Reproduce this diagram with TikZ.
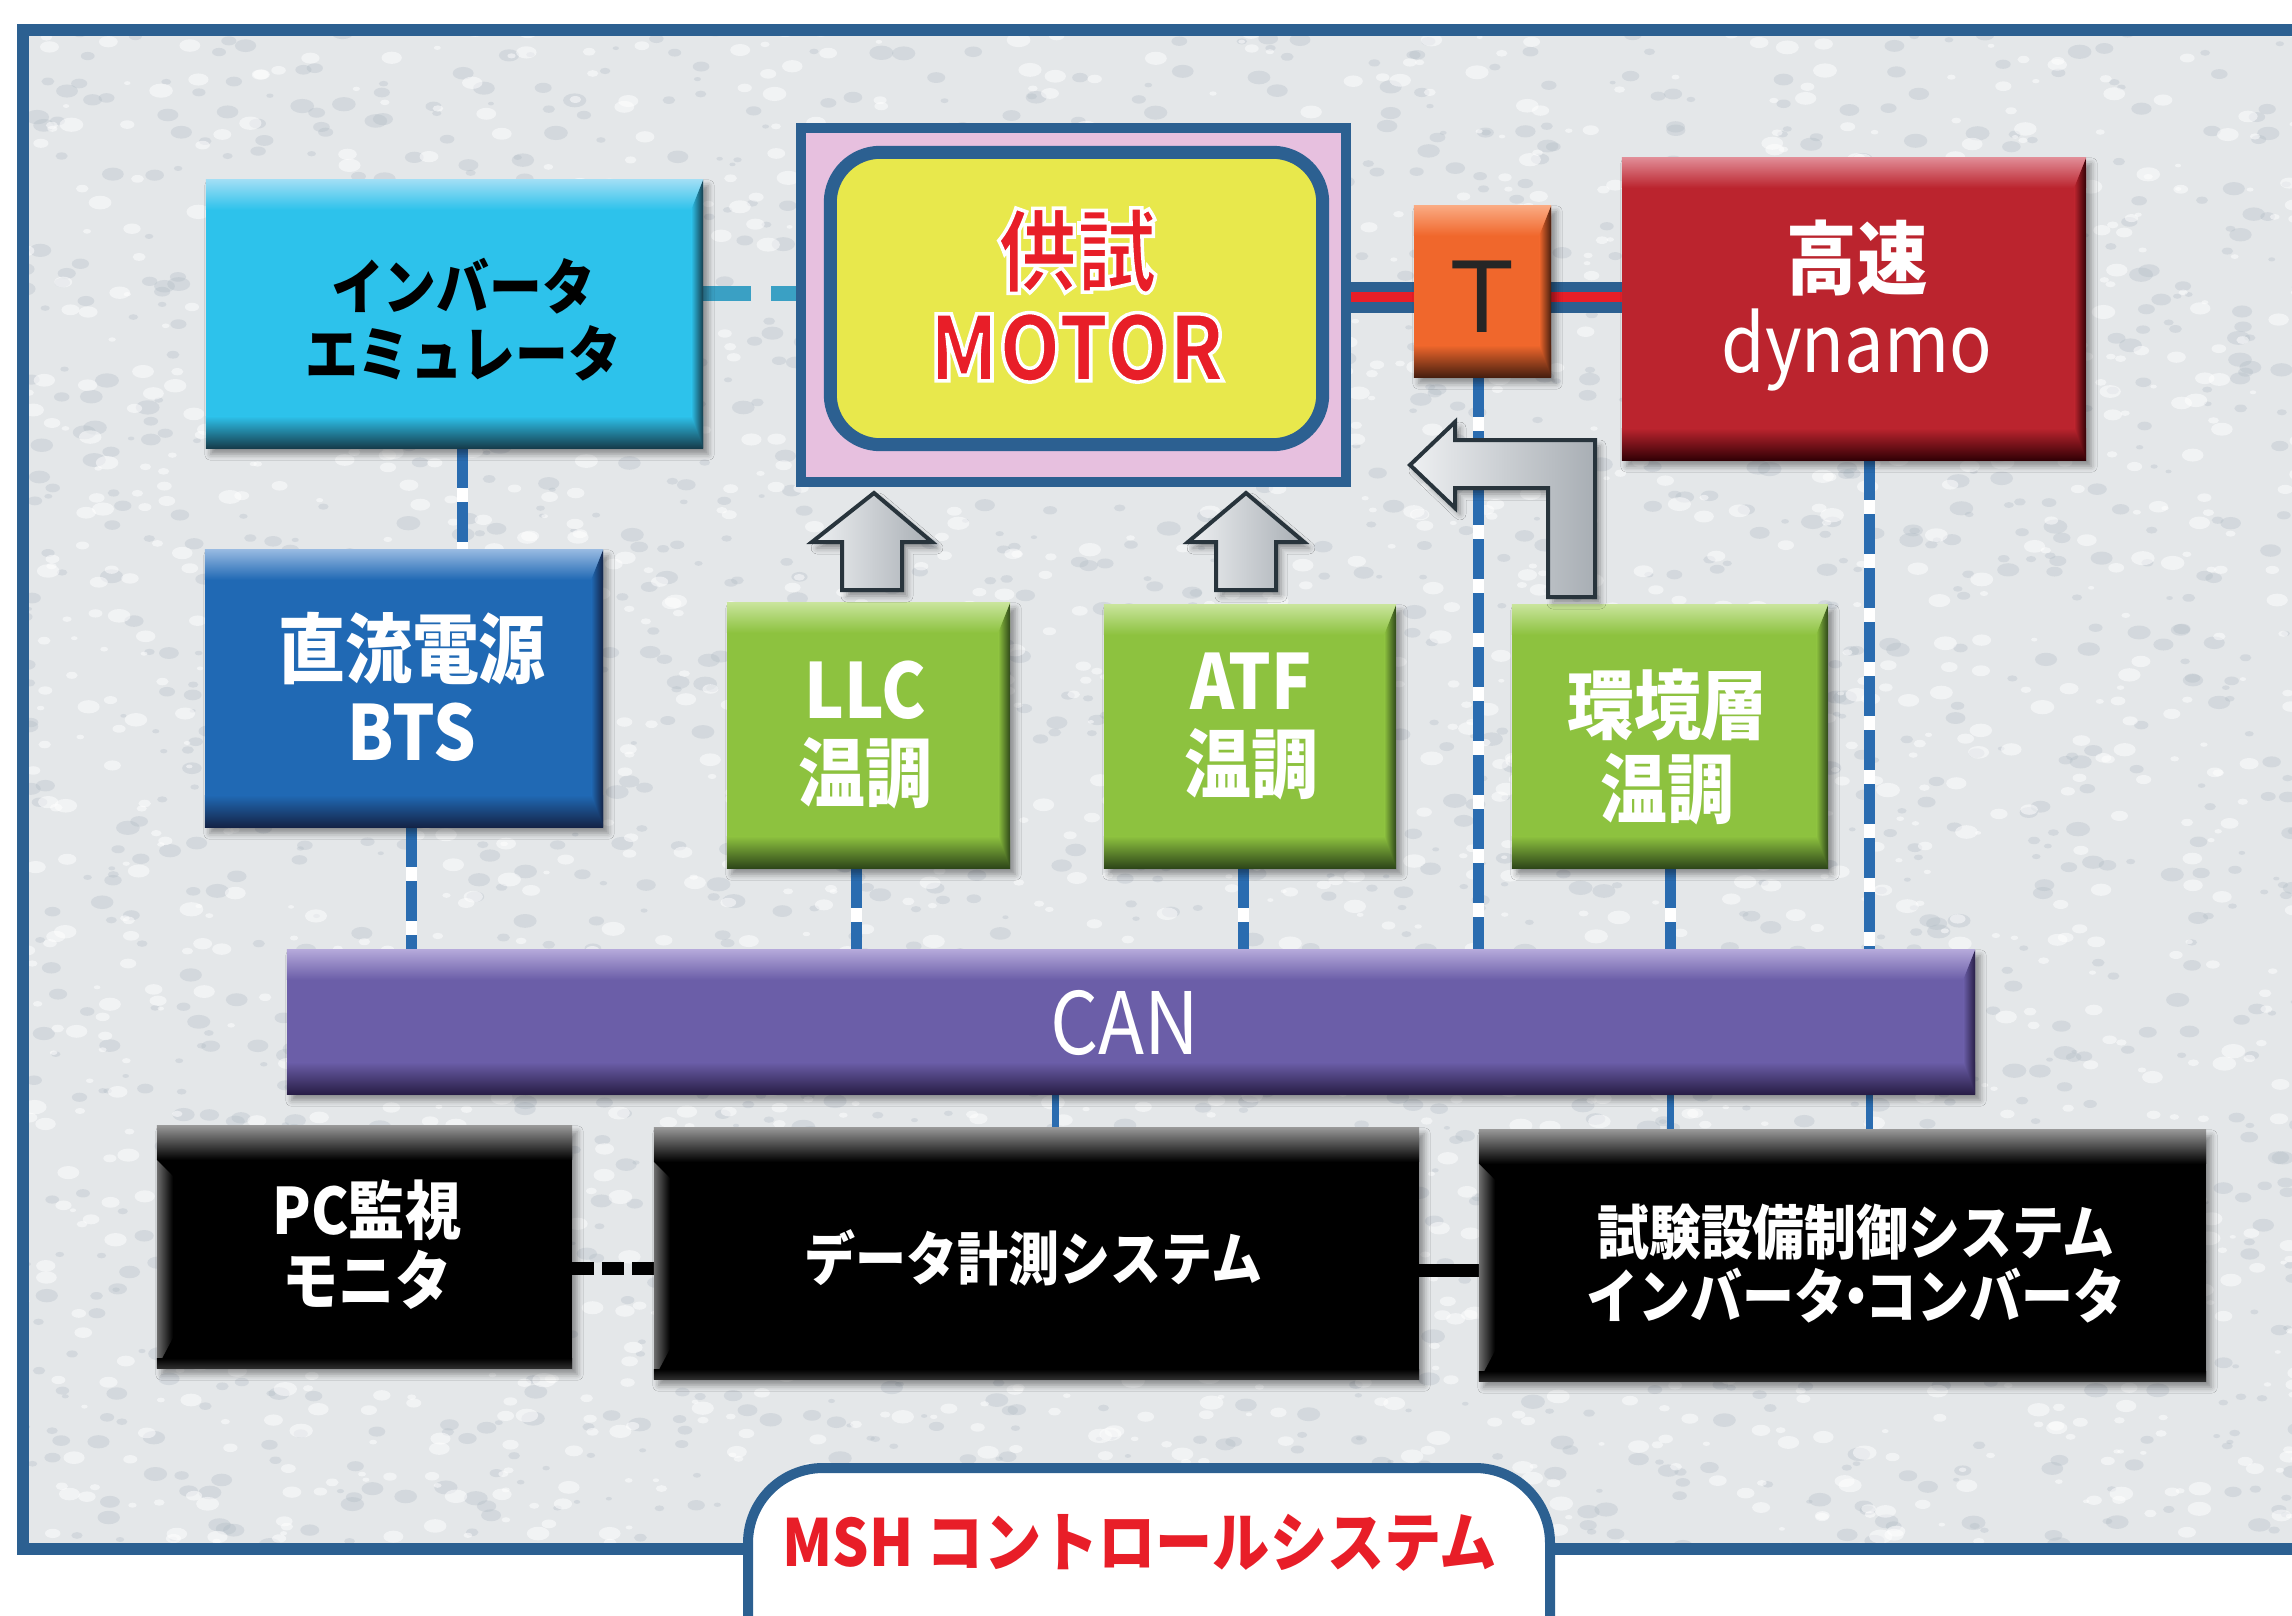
\documentclass[tikz,border=0pt]{standalone}
\usepackage{fontspec}
\newfontfamily\jp[FakeStretch=0.88]{Noto Sans CJK JP}
\newfontfamily\tfont{Liberation Sans}
\usetikzlibrary{calc,shadows.blur}
\newcommand\outlon{\special{pdf:literal direct 2 Tr 1 1 1 RG 3.5 w}}
\newcommand\outloff{\special{pdf:literal direct 0 Tr}}
\definecolor{frameblue}{RGB}{44,96,145}
\definecolor{bgc}{RGB}{228,231,233}
\definecolor{bgd}{RGB}{172,184,194}
\definecolor{cyanb}{RGB}{45,194,235}
\definecolor{cyanl}{RGB}{160,222,245}
\definecolor{cyand}{RGB}{22,60,75}
\definecolor{blueb}{RGB}{32,105,180}
\definecolor{bluel}{RGB}{150,185,225}
\definecolor{blued}{RGB}{20,35,70}
\definecolor{greenb}{RGB}{141,194,63}
\definecolor{greenl}{RGB}{200,228,155}
\definecolor{greend}{RGB}{45,70,25}
\definecolor{redb}{RGB}{187,36,46}
\definecolor{redl}{RGB}{225,140,150}
\definecolor{redd}{RGB}{50,0,5}
\definecolor{orab}{RGB}{240,103,44}
\definecolor{oral}{RGB}{250,170,130}
\definecolor{orad}{RGB}{70,30,15}
\definecolor{purb}{RGB}{107,94,168}
\definecolor{purl}{RGB}{180,168,218}
\definecolor{purd}{RGB}{40,30,70}
\definecolor{blkb}{RGB}{0,0,0}
\definecolor{blkl}{RGB}{150,150,150}
\definecolor{blkd}{RGB}{45,45,45}
\definecolor{blkside}{RGB}{110,110,110}
\definecolor{yel}{RGB}{232,232,76}
\definecolor{mpink}{RGB}{231,192,223}
\definecolor{motred}{RGB}{232,30,40}
\definecolor{lineblue}{RGB}{42,108,176}
\definecolor{lteal}{RGB}{58,160,196}
\definecolor{arrl}{RGB}{238,240,242}
\definecolor{arrd}{RGB}{168,174,180}
\definecolor{arrline}{RGB}{40,52,60}
\tikzset{
  bevel/.style n args={3}{fill=#1, path picture={
    \coordinate (pNW) at (path picture bounding box.north west);
    \coordinate (pNE) at (path picture bounding box.north east);
    \coordinate (pSW) at (path picture bounding box.south west);
    \coordinate (pSE) at (path picture bounding box.south east);
    \shade[top color=#2, bottom color=#1] (pNW) rectangle ([yshift=-30pt]pNE);
    \shade[top color=#1, bottom color=#3] ([yshift=32pt]pSW) rectangle (pSE);
    \shade[left color=#1, right color=#3] ([xshift=-12pt,yshift=-30pt]pNE) -- (pNE) -- (pSE) -- ([xshift=-12pt,yshift=32pt]pSE) -- cycle;
  }},
  blkbevel/.style={fill=blkb, path picture={
    \coordinate (pNW) at (path picture bounding box.north west);
    \coordinate (pNE) at (path picture bounding box.north east);
    \coordinate (pSW) at (path picture bounding box.south west);
    \coordinate (pSE) at (path picture bounding box.south east);
    \shade[top color=blkl, bottom color=blkb] (pNW) rectangle ([yshift=-34pt]pNE);
    \shade[left color=blkside, right color=blkb] ([yshift=-34pt]pNW) -- ([xshift=16pt,yshift=-50pt]pNW) -- ([xshift=16pt,yshift=30pt]pSW) -- (pSW) -- cycle;
    \shade[top color=blkb, bottom color=blkd] ([yshift=10pt]pSW) rectangle (pSE);
  }},
  softshadow/.style={blur shadow={shadow xshift=5pt, shadow yshift=-6pt, shadow blur radius=6pt, shadow opacity=40}},
  boxfill/.style={softshadow},
  place/.style={inner sep=0pt},
  txt/.style={align=center, inner sep=0pt},
  vdash/.style={draw=lineblue, line width=11, dash pattern=on 40pt off 14pt, preaction={draw=white, line width=11, solid}},
  vsolid/.style={draw=lineblue, line width=7},
  tealdash/.style={draw=lteal, line width=15, dash pattern=on 48pt off 20pt},
  blkdash/.style={draw=black, line width=13, dash pattern=on 22pt off 8pt},
  blkline/.style={draw=black, line width=13},
  garrow/.style={left color=arrl, right color=arrd, draw=arrline, line width=4, line join=miter, softshadow},
}
\begin{document}
\begin{tikzpicture}[x=1pt, y=-1pt]
\useasboundingbox (0,0) rectangle (2292,1616);
% background and frame
\fill[white] (0,0) rectangle (2292,1616);
\fill[bgc] (23,30) rectangle (2330,1549);
\begin{scope}
  \clip (23,30) rectangle (2330,1549);
  \pgfmathsetseed{42}
  \foreach \i in {1,...,2100}{
    \pgfmathsetmacro\qx{23+2290*rnd}
    \pgfmathsetmacro\qy{30+1519*rnd}
    \pgfmathsetmacro\qr{3+9*rnd}
    \fill[bgd, opacity=0.3] (\qx,\qy) ellipse ({\qr} and {0.6*\qr});
  }
  \foreach \i in {1,...,2100}{
    \pgfmathsetmacro\qx{23+2290*rnd}
    \pgfmathsetmacro\qy{30+1519*rnd}
    \pgfmathsetmacro\qr{3+9*rnd}
    \fill[white, opacity=0.5] (\qx,\qy) ellipse ({\qr} and {0.6*\qr});
  }
\end{scope}
\draw[frameblue, line width=12] (23,30) rectangle (2340,1549);

% node placements (named)
\node[place, minimum width=497, minimum height=268] (inv) at (454.5,314) {};
\node[place, minimum width=398, minimum height=277] (dc) at (404,688.5) {};
\node[place, minimum width=545, minimum height=354] (motorout) at (1073.5,305) {};
\node[place, minimum width=492, minimum height=292] (motorin) at (1076.5,298.5) {};
\node[place, minimum width=137, minimum height=171] (T) at (1482.5,291.5) {};
\node[place, minimum width=464, minimum height=302] (dyn) at (1854,309) {};
\node[place, minimum width=283, minimum height=265] (llc) at (868.5,735.5) {};
\node[place, minimum width=292, minimum height=263] (atf) at (1250,736.5) {};
\node[place, minimum width=316, minimum height=263] (env) at (1670,736.5) {};
\node[place, minimum width=1688, minimum height=144] (can) at (1131,1022) {};
\node[place, minimum width=415, minimum height=242] (pc) at (364.5,1247) {};
\node[place, minimum width=765, minimum height=251] (data) at (1036.5,1253.5) {};
\node[place, minimum width=727, minimum height=251] (test) at (1842.5,1255.5) {};

% connectors (behind the boxes)
\coordinate (sh) at ([yshift=8pt]motorout.east);
\draw[frameblue, line width=31] (sh) -- (sh -| T.west);
\draw[frameblue, line width=31] (T.east |- sh) -- (dyn.west |- sh);
\draw[motred, line width=10] (sh) -- (sh -| T.west);
\draw[motred, line width=10] (T.east |- sh) -- (dyn.west |- sh);
\draw[tealdash] ([yshift=21pt]inv.east) -- ([yshift=21pt]inv.east -| motorout.west);
\draw[vdash] ([xshift=7.5pt]inv.south) -- ([xshift=7.5pt]inv.south |- dc.north);
\draw[vdash] ([xshift=7pt]dc.south) -- ([xshift=7pt]dc.south |- can.north);
\draw[vdash] ([xshift=-12.5pt]llc.south) -- ([xshift=-12.5pt]llc.south |- can.north);
\draw[vdash] ([xshift=-7pt]atf.south) -- ([xshift=-7pt]atf.south |- can.north);
\draw[vdash] ([xshift=-4.5pt]T.south) -- ([xshift=-4.5pt]T.south |- can.north);
\draw[vdash] (env.south) -- (env.south |- can.north);
\draw[vdash] ([xshift=15pt]dyn.south) -- ([xshift=15pt]dyn.south |- can.north);
\draw[vsolid] ([xshift=18.5pt]data.north |- can.south) -- ([xshift=18.5pt]data.north);
\draw[vsolid] (env.south |- can.south) -- (env.south |- test.north);
\draw[vsolid] ([xshift=15pt]dyn.south |- can.south) -- ([xshift=15pt]dyn.south |- test.north);
\draw[blkdash] ([yshift=-21pt]pc.east) -- ([yshift=-21pt]pc.east -| data.west);
\draw[blkline] ([yshift=-17pt]data.east) -- ([yshift=-17pt]data.east -| test.west);

% boxes
\path[boxfill, bevel={cyanb}{cyanl}{cyand}] (inv.north west) rectangle (inv.south east);
\path[boxfill, bevel={blueb}{bluel}{blued}] (dc.north west) rectangle (dc.south east);
\draw[frameblue, line width=10, fill=mpink] (motorout.north west) rectangle (motorout.south east);
\draw[frameblue, line width=13, fill=yel, rounded corners=50pt] (motorin.north west) rectangle (motorin.south east);
\path[boxfill, bevel={orab}{oral}{orad}] (T.north west) rectangle (T.south east);
\path[boxfill, bevel={redb}{redl}{redd}] (dyn.north west) rectangle (dyn.south east);
\path[boxfill, bevel={greenb}{greenl}{greend}] (llc.north west) rectangle (llc.south east);
\path[boxfill, bevel={greenb}{greenl}{greend}] (atf.north west) rectangle (atf.south east);
\path[boxfill, bevel={greenb}{greenl}{greend}] (env.north west) rectangle (env.south east);
\path[boxfill, bevel={purb}{purl}{purd}] (can.north west) rectangle (can.south east);
\path[boxfill, blkbevel] (pc.north west) rectangle (pc.south east);
\path[boxfill, blkbevel] (data.north west) rectangle (data.south east);
\path[boxfill, blkbevel] (test.north west) rectangle (test.south east);

% gray block arrows
\draw[garrow] (874,493) -- (932,542) -- (902,542) -- (902,590) -- (842,590) -- (842,542) -- (812,542) -- cycle;
\draw[garrow] (1246,493) -- (1304,542) -- (1276,542) -- (1276,590) -- (1216,590) -- (1216,542) -- (1188,542) -- cycle;
\draw[garrow] (1410,465) -- (1455,422) -- (1455,440) -- (1595,440) -- (1595,597) -- (1548,597) -- (1548,488) -- (1455,488) -- (1455,508) -- cycle;

% texts
\node[txt, text=black, font=\jp\bfseries\fontsize{60}{67}\selectfont] (invT) at (463,320) {インバータ\\エミュレータ};
\node[txt, text=white, font=\jp\bfseries\fontsize{76}{83}\selectfont] (dcT) at (412,687) {直流電源\\BTS};
\node[txt, text=motred, font=\jp\bfseries\fontsize{90}{96}\selectfont] (motorT) at (1077,295) {\outlon 供試\\MOTOR\outloff};
\node[txt, text={black!85}, font=\tfont\fontsize{104}{104}\selectfont] (TT) at (1482.5,297) {T};
\node[txt, text=white, font=\jp\fontsize{80}{84}\selectfont] (dynT) at (1857,306) {{\bfseries 高速}\\dynamo};
\node[txt, text=white, font=\jp\bfseries\fontsize{76}{83}\selectfont] (llcT) at (865,734.5) {LLC\\温調};
\node[txt, text=white, font=\jp\bfseries\fontsize{76}{83}\selectfont] (atfT) at (1251,726) {ATF\\温調};
\node[txt, text=white, font=\jp\bfseries\fontsize{76}{84}\selectfont] (envT) at (1667.5,746.5) {環境層\\温調};
\node[txt, text=white, font=\jp\fontsize{86}{86}\selectfont] (canT) at (1124.5,1023) {CAN};
\node[txt, text=white, font=\jp\bfseries\fontsize{64}{70}\selectfont] (pcT) at (367,1245) {PC監視\\モニタ};
\node[txt, text=white, font=\jp\bfseries\fontsize{58}{64}\selectfont] (dataT) at (1033.5,1257.5) {データ計測システム};
\node[txt, text=white, font=\jp\bfseries\fontsize{59}{64}\selectfont] (testT) at (1856,1264) {試験設備制御システム\\インバータ\kern-16pt・\kern-16pt コンバータ};

% title pill
\draw[frameblue, line width=10, fill=white, rounded corners=75pt] (748,1468) rectangle (1550,1720);
\node[txt, text=motred, font=\jp\bfseries\fontsize{65}{65}\selectfont] (title) at (1140,1542.5) {MSH コントロールシステム};
\end{tikzpicture}
\end{document}
